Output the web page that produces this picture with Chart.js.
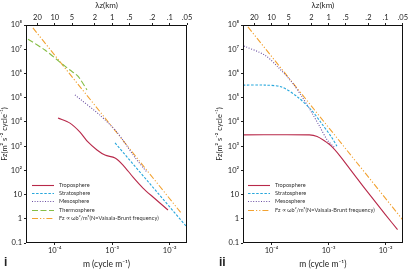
<!DOCTYPE html>
<html><head><meta charset="utf-8">
<script src="https://cdn.jsdelivr.net/npm/chart.js@4"></script>
<style>
html,body{margin:0;padding:0;background:#fff;width:409px;height:273px;overflow:hidden}
canvas{position:absolute;top:0}
#c1{left:0}
#c2{left:204px}
.pl{position:absolute;font:bold 12px "Liberation Sans",Arial,sans-serif;color:#222;line-height:1}
</style></head><body>
<canvas id="c1" width="204" height="273"></canvas>
<canvas id="c2" width="205" height="273"></canvas>
<div class="pl" style="left:4px;top:256px">i</div>
<div class="pl" style="left:219px;top:256px">ii</div>
<script>
// ---- tick values / labels ----
const yTickValues = [0.1, 1, 10, 100, 1e3, 1e4, 1e5, 1e6, 1e7, 1e8];
const yTickLabels = ['0.1', '1', '10', '10²', '10³', '10⁴', '10⁵', '10⁶', '10⁷', '10⁸'];
const xTickValues = [1e-4, 1e-3, 1e-2];
const xTickLabels = ['10⁻⁴', '10⁻³', '10⁻²'];
const lambdaKm = [20, 10, 5, 2, 1, 0.5, 0.2, 0.1, 0.05];
const lambdaLabels = ['20', '10', '5', '2', '1', '.5', '.2', '.1', '.05'];
const seriesNames = ['Troposphere', 'Stratosphere', 'Mesosphere', 'Thermosphere', 'Fz ∝ ωb²/m³(N=Vaisala-Brunt frequency)'];

// ---- panel i data (m in cycle/m, Fz) ----
const mTropoI  = [1.14e-4, 1.84e-4, 2.75e-4, 3.78e-4, 5.43e-4, 7.48e-4, 1.12e-3, 1.54e-3, 2.30e-3, 3.43e-3, 5.12e-3, 9.33e-3];
const fTropoI  = [1.45e4, 8.9e3, 3.8e3, 1.48e3, 692, 427, 324, 166, 52.5, 18.6, 7.9, 2.3];
const mStratI  = [1.12e-3, 2.0e-2];
const fStratI  = [1350, 0.45];
const mMesoI   = [2.25e-4, 6.12e-4, 1.21e-3, 2.51e-3, 4.0e-3];
const fMesoI   = [1.29e5, 1.9e4, 3.8e3, 330, 85];
const mThermoI = [3.43e-5, 6.76e-5, 1.23e-4, 1.84e-4, 2.53e-4, 3.64e-4];
const fThermoI = [2.6e7, 9.3e6, 2.95e6, 1.38e6, 7.8e5, 2.1e5];
const mFzI     = [4.17e-5, 1.62e-2];
const fFzI     = [7.6e7, 1.6];

// ---- panel ii data ----
const mTropoII = [3.16e-5, 4.62e-4, 6.31e-4, 8.43e-4, 1.12e-3, 1.58e-3, 2.51e-3, 3.98e-3, 6.31e-3, 1.0e-2, 1.62e-2];
const fTropoII = [2.9e3, 2.9e3, 2.5e3, 1.66e3, 1.0e3, 398, 95, 23, 5.75, 1.45, 0.355];
const mStratII = [3.16e-5, 7.6e-5, 1.51e-4, 2.86e-4, 5.0e-4, 7.48e-4, 1.12e-3, 1.4e-3];
const fStratII = [3.3e5, 3.3e5, 2.75e5, 1.07e5, 3.1e4, 8.9e3, 2.4e3, 1.0e3];
const mMesoII  = [3.29e-5, 7.6e-5, 1.29e-4, 2.25e-4, 3.36e-4, 5.0e-4, 6.9e-4, 9.5e-4, 1.26e-3];
const fMesoII  = [1.35e7, 5.75e6, 1.86e6, 4.5e5, 1.17e5, 2.57e4, 6.8e3, 1.78e3, 890];
const mFzII    = [3.86e-5, 2.0e-2];
const fFzII    = [8.3e7, 0.9];

const X_MIN = 3.1623e-5, X_MAX = 0.02, Y_MIN = 0.1, Y_MAX = 1e8;
const FONT = 'Lato, "Liberation Sans", Arial, sans-serif';
const TXT = '#222';

const styles = [
  {borderColor:'#b8294a', borderDash:[], borderWidth:1.1},
  {borderColor:'#27a7dc', borderDash:[2.5,1.6], borderWidth:1.1},
  {borderColor:'#6b4fa3', borderDash:[1,1.6], borderWidth:1.1},
  {borderColor:'#86bd45', borderDash:[6,2.5], borderWidth:1.1},
  {borderColor:'#f2a232', borderDash:[6,2,1.2,2,1.2,2], borderWidth:1.1}
];

function pts(ms, fs){ return ms.map((m,i)=>({x:m, y:fs[i]})); }
function ds(name, st, ms, fs, tension){
  return Object.assign({label:name, data:pts(ms,fs), showLine:true, pointRadius:0, fill:false, tension:tension}, st);
}

const framePlugin = {
  id:'frame',
  afterDraw(chart){
    const a = chart.chartArea, c = chart.ctx;
    c.save(); c.strokeStyle='#111'; c.lineWidth=1;
    c.strokeRect(Math.round(a.left)+0.5, Math.round(a.top)+0.5, Math.round(a.right-a.left)-1, Math.round(a.bottom-a.top)-1);
    c.restore();
  }
};
const legendPlugin = {
  id:'insideLegend',
  afterDatasetsDraw(chart, args, o){
    const c = chart.ctx, a = chart.chartArea;
    c.save();
    c.font = '5.6px ' + FONT; c.textBaseline='middle'; c.textAlign='left';
    chart.data.datasets.forEach((d,i)=>{
      const y = Math.round(a.top + o.top + i*o.rowH) + 0.5;
      const x0 = a.left + o.left;
      c.strokeStyle = d.borderColor; c.lineWidth = d.borderWidth; c.setLineDash(d.borderDash||[]);
      c.beginPath(); c.moveTo(x0,y); c.lineTo(x0+o.len,y); c.stroke();
      c.setLineDash([]);
      c.fillStyle = '#333'; c.fillText(d.label, x0+o.len+o.gap, y);
    });
    c.restore();
  }
};

function scales(yWidth, yTitlePad){
  return {
    x: {type:'logarithmic', position:'bottom', min:X_MIN, max:X_MAX,
        afterBuildTicks: s => { s.ticks = xTickValues.map(v=>({value:v})); },
        ticks:{callback:(v,i)=>xTickLabels[i], font:{size:7.5,family:FONT}, color:TXT, padding:1, maxRotation:0, autoSkip:false},
        grid:{display:true, drawOnChartArea:false, drawTicks:true, tickLength:2, color:'#222'},
        border:{display:false},
        title:{display:true, text:'m (cycle m⁻¹)', font:{size:8.5,family:FONT}, color:TXT, padding:{top:0,bottom:4}},
        afterFit: s => { s.height = 30; }},
    x2: {type:'logarithmic', position:'top', min:X_MIN, max:X_MAX,
        afterBuildTicks: s => { s.ticks = lambdaKm.map(l=>({value:1/(l*1000)})); },
        ticks:{callback:(v,i)=>lambdaLabels[i], font:{size:7.5,family:FONT}, color:TXT, padding:1, maxRotation:0, autoSkip:false},
        grid:{display:true, drawOnChartArea:false, drawTicks:true, tickLength:2, color:'#222'},
        border:{display:false},
        title:{display:true, text:'λz(km)', font:{size:8,family:FONT}, color:TXT, padding:{top:1,bottom:0}},
        afterFit: s => { s.height = 25; }},
    y: {type:'logarithmic', position:'left', min:Y_MIN, max:Y_MAX,
        afterBuildTicks: s => { s.ticks = yTickValues.map(v=>({value:v})); },
        ticks:{callback:(v,i)=>yTickLabels[i], font:{size:7.5,family:FONT}, color:TXT, padding:2, autoSkip:false},
        grid:{display:true, drawOnChartArea:false, drawTicks:true, tickLength:2, color:'#222'},
        border:{display:false},
        title:{display:true, text:'Fz(m² s⁻² cycle⁻¹)', font:{size:7.5,family:FONT}, color:TXT, padding:{top:yTitlePad,bottom:0}},
        afterFit: s => { s.width = yWidth; }}
  };
}

function common(padRight, yWidth, yTitlePad, legendLeft){
  return {
    responsive:false, animation:false, devicePixelRatio:1,
    layout:{padding:{left:0, right:padRight, top:0, bottom:0}},
    plugins:{legend:{display:false}, tooltip:{enabled:false},
             insideLegend:{left:legendLeft, top:160, rowH:8.2, len:22, gap:5}},
    scales: scales(yWidth, yTitlePad)
  };
}

new Chart(document.getElementById('c1'), {
  type:'scatter',
  data:{datasets:[
    ds(seriesNames[0], styles[0], mTropoI, fTropoI, 0.3),
    ds(seriesNames[1], styles[1], mStratI, fStratI, 0),
    ds(seriesNames[2], styles[2], mMesoI, fMesoI, 0.2),
    ds(seriesNames[3], styles[3], mThermoI, fThermoI, 0.2),
    ds(seriesNames[4], styles[4], mFzI, fFzI, 0)
  ]},
  options: common(17, 26, 0, 6),
  plugins:[framePlugin, legendPlugin]
});

new Chart(document.getElementById('c2'), {
  type:'scatter',
  data:{datasets:[
    ds(seriesNames[0], styles[0], mTropoII, fTropoII, 0.3),
    ds(seriesNames[1], styles[1], mStratII, fStratII, 0.3),
    ds(seriesNames[2], styles[2], mMesoII, fMesoII, 0.3),
    ds(seriesNames[4], styles[4], mFzII, fFzII, 0)
  ]},
  options: common(6, 39, 11, 5),
  plugins:[framePlugin, legendPlugin]
});
</script>
</body></html>
